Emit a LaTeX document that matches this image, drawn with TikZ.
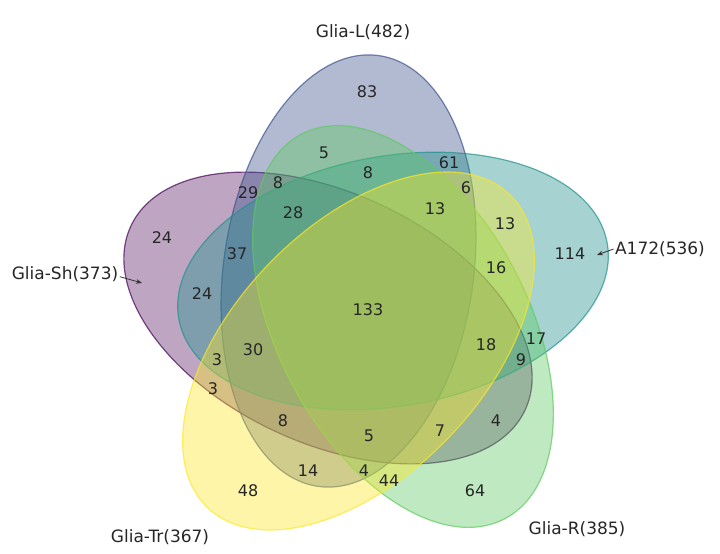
\documentclass[tikz,border=0pt]{standalone}
\usepackage{fontspec}
\setmainfont{DejaVu Sans}
\usetikzlibrary{arrows.meta}
\definecolor{vPurple}{RGB}{68,1,84}
\definecolor{vBlue}{RGB}{59,82,139}
\definecolor{vTeal}{RGB}{33,145,140}
\definecolor{vGreen}{RGB}{94,201,98}
\definecolor{vYellow}{RGB}{253,231,37}
\begin{document}
\begin{tikzpicture}[x=0.75pt,y=-0.75pt,
  setshape/.style={fill=#1, fill opacity=0.4, draw=#1, draw opacity=0.7, line width=0.9pt},
  num/.style={font=\fontsize{12}{14}\selectfont, text=black!85, inner sep=0pt},
  setname/.style={font=\fontsize{12.75}{15}\selectfont, text=black!85, inner sep=1pt},
  ptr/.style={-{Stealth[length=4.5pt,width=3.5pt]}, line width=0.6pt, draw=black!80}]
\useasboundingbox (0,0) rectangle (720,553);
% set shapes (drawn in order, yellow on top)
\draw[setshape=vPurple, fill opacity=0.35, rotate around={155:(328,318)}] (328,318) ellipse [x radius=217.5, y radius=125];
\draw[setshape=vBlue, rotate around={82:(348.5,271)}] (348.5,271) ellipse [x radius=217.5, y radius=125];
\draw[setshape=vTeal, rotate around={10:(393,281)}] (393,281) ellipse [x radius=217.5, y radius=125];
\draw[setshape=vGreen, rotate around={118:(403,326.5)}] (403,326.5) ellipse [x radius=217.5, y radius=125];
\draw[setshape=vYellow, rotate around={46:(358.5,351)}] (358.5,351) ellipse [x radius=217.5, y radius=125];
% region counts
\node[num] (n83) at (367,92) {83};
\node[num] (n5a) at (324,153) {5};
\node[num] (n8a) at (368,173) {8};
\node[num] (n61) at (449,163) {61};
\node[num] (n6) at (466,188) {6};
\node[num] (n29) at (248,193) {29};
\node[num] (n8b) at (278,183) {8};
\node[num] (n28) at (293,213) {28};
\node[num] (n13a) at (435,209) {13};
\node[num] (n13b) at (505,224) {13};
\node[num] (n24a) at (162,238) {24};
\node[num] (n37) at (237,254) {37};
\node[num] (n16) at (496,268) {16};
\node[num] (n114) at (570,254) {114};
\node[num] (n24b) at (202,294) {24};
\node[num] (n133) at (368,310) {133};
\node[num] (n30) at (253,350) {30};
\node[num] (n3a) at (217,360) {3};
\node[num] (n18) at (486,345) {18};
\node[num] (n17) at (536,339) {17};
\node[num] (n9) at (521,360) {9};
\node[num] (n3b) at (213,389) {3};
\node[num] (n8c) at (283,421) {8};
\node[num] (n5b) at (369,436) {5};
\node[num] (n7) at (440,431) {7};
\node[num] (n4a) at (496,421) {4};
\node[num] (n14) at (308,471) {14};
\node[num] (n4b) at (364,471) {4};
\node[num] (n44) at (389,481) {44};
\node[num] (n48) at (248,491) {48};
\node[num] (n64) at (475,491) {64};
% set names
\node[setname] (lblL) at (363,32) {Glia-L(482)};
\node[setname] (lblSh) at (65,274) {Glia-Sh(373)};
\node[setname] (lblA) at (660,249) {A172(536)};
\node[setname] (lblTr) at (160,537) {Glia-Tr(367)};
\node[setname] (lblR) at (577,529) {Glia-R(385)};
% pointers
\coordinate (shTip) at (142,283);
\coordinate (aTip) at (597,255);
\draw[ptr] ([yshift=-2pt]lblSh.east) -- (shTip);
\draw[ptr] (lblA.west) -- (aTip);
\end{tikzpicture}
\end{document}
